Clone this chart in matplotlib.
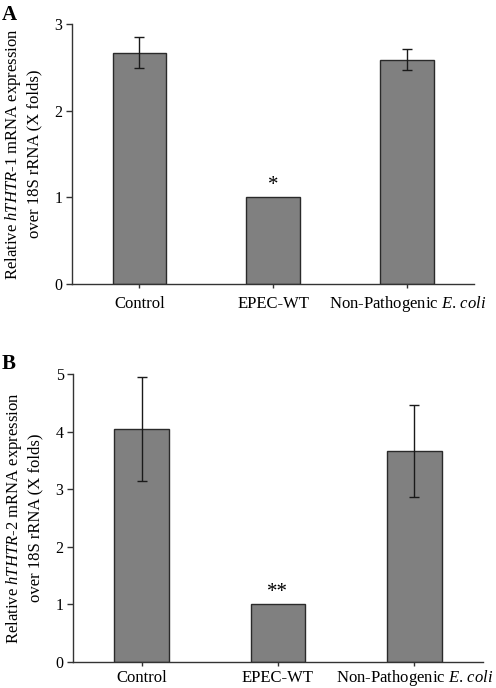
import matplotlib
matplotlib.use("Agg")
import matplotlib.pyplot as plt
import numpy as np

categories = ["Control", "EPEC-WT", r"Non-Pathogenic $\it{E.\,coli}$"]
values_a = [2.67, 1.00, 2.59]
errors_a = [0.18, 0.0, 0.12]
values_b = [4.05, 1.00, 3.67]
errors_b = [0.90, 0.0, 0.80]
sig_a = ["", "*", ""]
sig_b = ["", "**", ""]
yticks_a = [0, 1, 2, 3]
yticks_b = [0, 1, 2, 3, 4, 5]

plt.rcParams["font.family"] = ["Liberation Serif", "DejaVu Serif"]
plt.rcParams["mathtext.fontset"] = "custom"
plt.rcParams["mathtext.rm"] = "Liberation Serif"
plt.rcParams["mathtext.it"] = "Liberation Serif:italic"
plt.rcParams["mathtext.bf"] = "Liberation Serif:bold"

fig = plt.figure(figsize=(4.96, 6.88), dpi=100)
axA = fig.add_axes([0.1458, 0.5872, 0.956 - 0.1458, 0.9651 - 0.5872])
axB = fig.add_axes([0.1478, 0.0378, 0.973 - 0.1478, 0.4564 - 0.0378])


def draw(ax, vals, errs, sigs, yticks, ylabel, xpad):
    x = np.arange(len(categories))
    ax.bar(x, vals, width=0.4, color="#808080", edgecolor="#2a2a2a", linewidth=1.0, zorder=2)
    ex = [i for i, e in enumerate(errs) if e > 0]
    ax.errorbar(x[ex], np.array(vals)[ex], yerr=np.array(errs)[ex], fmt="none",
                ecolor="#1a1a1a", elinewidth=1.0, capsize=3.5, capthick=1.0, zorder=3)
    for i, s in enumerate(sigs):
        if s:
            ax.annotate(s, xy=(x[i], vals[i]), xytext=(0, 2), textcoords="offset points",
                        ha="center", va="bottom", fontsize=15)
    ax.set_xlim(-0.5, 2.5)
    ax.set_ylim(yticks[0], yticks[-1])
    ax.set_yticks(yticks)
    ax.set_xticks(x)
    ax.set_xticklabels(categories, fontsize=12)
    for lab in ax.get_xticklabels():
        lab.set_va("baseline")
    ax.tick_params(axis="y", labelsize=11.5, length=4, width=1, color="#333333", pad=3)
    ax.tick_params(axis="x", length=3, width=1, color="#333333", pad=xpad)
    for s in ["top", "right"]:
        ax.spines[s].set_visible(False)
    for s in ["left", "bottom"]:
        ax.spines[s].set_color("#333333")
        ax.spines[s].set_linewidth(1.0)
    ax.set_ylabel(ylabel, fontsize=12, labelpad=9, linespacing=1.25)


draw(axA, values_a, errors_a, sig_a, yticks_a,
     "Relative $\\it{hTHTR}$-$\\it{1}$ mRNA expression\nover 18S rRNA (X folds)", 14)
draw(axB, values_b, errors_b, sig_b, yticks_b,
     "Relative $\\it{hTHTR}$-2 mRNA expression\nover 18S rRNA (X folds)", 11.5)

fig.text(0.004, 0.993, "A", fontsize=15, fontweight="bold", ha="left", va="top")
fig.text(0.004, 0.4855, "B", fontsize=15, fontweight="bold", ha="left", va="top")

fig.savefig("out.png", dpi=100)
